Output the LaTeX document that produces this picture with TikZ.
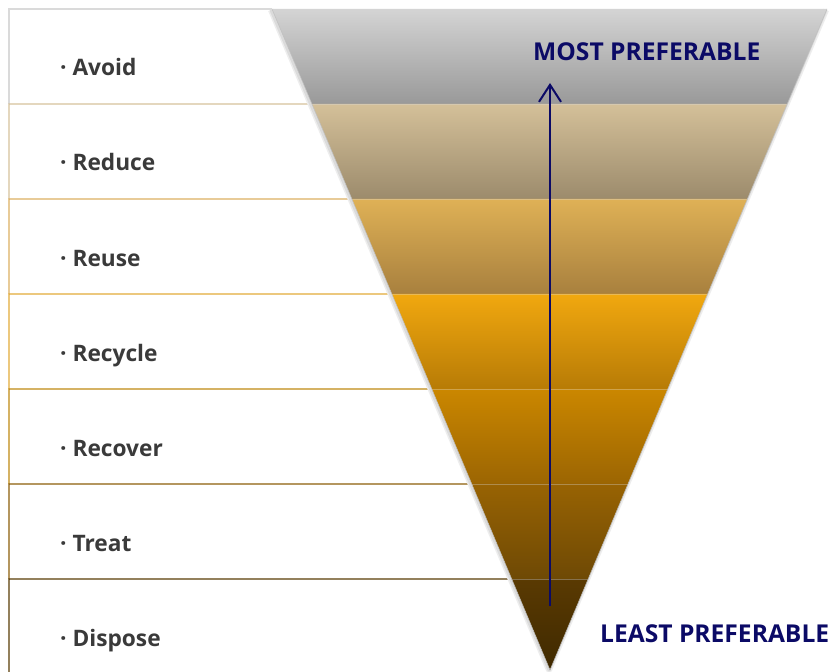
\documentclass[tikz,border=0pt]{standalone}
\usepackage{fontspec}
\setmainfont{Open Sans}
\usetikzlibrary{calc,arrows.meta}
\definecolor{navy}{HTML}{0B0A66}
\definecolor{labelgray}{HTML}{3A3A3A}
\definecolor{cA1}{HTML}{D4D4D4}\definecolor{cA2}{HTML}{999999}
\definecolor{cB1}{HTML}{D4C099}\definecolor{cB2}{HTML}{9C8B6C}
\definecolor{cC1}{HTML}{DFB156}\definecolor{cC2}{HTML}{A8803E}
\definecolor{cD1}{HTML}{F1A80F}\definecolor{cD2}{HTML}{B77B06}
\definecolor{cE1}{HTML}{CB8700}\definecolor{cE2}{HTML}{9B6502}
\definecolor{cF1}{HTML}{986303}\definecolor{cF2}{HTML}{6E4905}
\definecolor{cG1}{HTML}{5A3A02}\definecolor{cG2}{HTML}{3F2900}
\definecolor{bA}{HTML}{DADADA}
\definecolor{bB}{HTML}{D6C29C}
\definecolor{bC}{HTML}{DDB062}
\definecolor{bD}{HTML}{E2AB3A}
\definecolor{bE}{HTML}{C08912}
\definecolor{bF}{HTML}{8C5E0A}
\definecolor{bG}{HTML}{5A3C06}
\tikzset{
  lbl/.style={anchor=base west, inner sep=0pt, text=labelgray,
    font=\fontsize{22.7}{26}\selectfont\bfseries},
  pref/.style={anchor=base west, inner sep=0pt, text=navy,
    font=\fontsize{24.6}{28}\selectfont\bfseries},
  boxline/.style={line width=1.4pt},
  arr/.style={navy, line width=2pt, -{Straight Barb[length=17pt,width=22pt,line width=2pt]}}
}
\begin{document}
\begin{tikzpicture}[x=1pt,y=-1pt]
\useasboundingbox (0,0) rectangle (834,671);
\fill[white] (0,0) rectangle (834,671);
% triangle corners
\coordinate (TL) at (272,9);
\coordinate (TR) at (827,9);
\coordinate (AP) at (550,670);
% band boundary points on edges
\foreach \n/\y in {0/9,1/104,2/199,3/294,4/389,5/484,6/579}{
  \pgfmathsetmacro{\t}{(\y-9)/661}
  \coordinate (L\n) at ($(TL)!\t!(AP)$);
  \coordinate (R\n) at ($(TR)!\t!(AP)$);
}
% label boxes (top and left edges)
\foreach \n/\y/\c in {0/9/bA,1/104/bB,2/199/bC,3/294/bD,4/389/bE,5/484/bF,6/579/bG}{
  \pgfmathsetmacro{\yb}{\y+95}
  \draw[boxline,\c] (9,\yb) -- (9,\y) -- (L\n);
}
% soft shadow of the triangle
\draw[black!7, line width=6pt, line join=round] ($(TL)+(-1,1)$) -- ($(AP)+(-1,0)$) -- ($(TR)+(-1,1)$);
\draw[black!14, line width=3pt, line join=round] ($(TL)+(-1,1)$) -- ($(AP)+(-1,0)$) -- ($(TR)+(-1,1)$);
% bands
\shade[top color=cA1,bottom color=cA2] (L0) -- (R0) -- (R1) -- (L1) -- cycle;
\shade[top color=cB1,bottom color=cB2] (L1) -- (R1) -- (R2) -- (L2) -- cycle;
\shade[top color=cC1,bottom color=cC2] (L2) -- (R2) -- (R3) -- (L3) -- cycle;
\shade[top color=cD1,bottom color=cD2] (L3) -- (R3) -- (R4) -- (L4) -- cycle;
\shade[top color=cE1,bottom color=cE2] (L4) -- (R4) -- (R5) -- (L5) -- cycle;
\shade[top color=cF1,bottom color=cF2] (L5) -- (R5) -- (R6) -- (L6) -- cycle;
\shade[top color=cG1,bottom color=cG2] (L6) -- (R6) -- (AP) -- cycle;
% separators inside the triangle
\foreach \n in {1,...,6}{
  \draw[white!70!gray, opacity=0.35, line width=0.8pt] (L\n) -- (R\n);
}
\draw[black!25, line width=0.5pt, line join=round] (TL) -- (AP) -- (TR);
% labels
\node[lbl] (avoid)   at (60,76)  {· Avoid};
\node[lbl] (reduce)  at (60,171) {· Reduce};
\node[lbl] (reuse)   at (60,266) {· Reuse};
\node[lbl] (recycle) at (60,361) {· Recycle};
\node[lbl] (recover) at (60,456) {· Recover};
\node[lbl] (treat)   at (60,551) {· Treat};
\node[lbl] (dispose) at (60,646) {· Dispose};
% preference labels
\node[pref] (most)  at (533,61)  {MOST PREFERABLE};
\node[pref] (least) at (600,642) {LEAST PREFERABLE};
% arrow
\coordinate (abot) at (550,606);
\coordinate (atop) at (550,83);
\draw[arr] (abot) -- (atop);
\end{tikzpicture}
\end{document}
